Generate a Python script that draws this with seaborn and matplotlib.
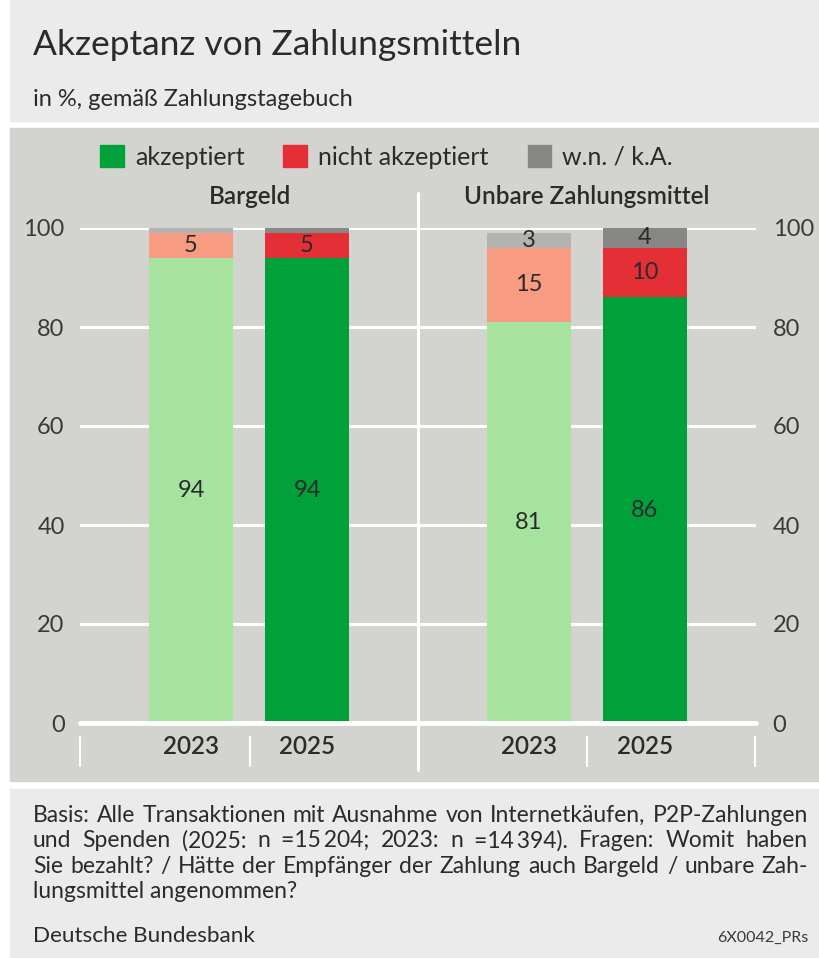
import seaborn as sns
import pandas as pd
import matplotlib.pyplot as plt
from matplotlib.patches import Rectangle, Patch
from matplotlib.lines import Line2D

## Daten
years = ["2023", "2025"]
groups = ["Bargeld", "Unbare Zahlungsmittel"]
bargeld_akz = [94, 94]
bargeld_nicht = [5, 5]
bargeld_wn = [1, 1]
unbar_akz = [81, 86]
unbar_nicht = [15, 10]
unbar_wn = [3, 4]
legend_labels = ["akzeptiert", "nicht akzeptiert", "w.n. / k.A."]
yticks = [0, 20, 40, 60, 80, 100]

title = "Akzeptanz von Zahlungsmitteln"
subtitle = "in %, gemäß Zahlungstagebuch"
footnote = ["Basis: Alle Transaktionen mit Ausnahme von Internetkäufen, P2P-Zahlungen",
            "und Spenden (2025: n =15\u2009204; 2023: n =14\u2009394). Fragen: Womit haben",
            "Sie bezahlt? / Hätte der Empfänger der Zahlung auch Bargeld / unbare Zah-",
            "lungsmittel angenommen?"]
source = "Deutsche Bundesbank"
code = "6X0042_PRs"

## Farben
green = {"2023": "#a5e39f", "2025": "#00a13a"}
red = {"2023": "#f89b83", "2025": "#e52f36"}
grey = {"2023": "#b3b3b1", "2025": "#878785"}
panel = "#d3d3d0"
light = "#ebebeb"
txt = "#2b2b2b"

sns.set_style("white")
plt.rcParams['font.family'] = ['Lato', 'DejaVu Sans']
plt.rcParams['text.color'] = txt

W, H = 820, 958
fig = plt.figure(figsize=(W / 100, H / 100), dpi=100)


def fx(px):
    return px / W


def fy(py):
    return 1 - py / H


## Hintergrund
for y0, y1, col in [(0, 121, light), (128, 781, panel), (789, H, light)]:
    fig.patches.append(Rectangle((fx(10), fy(y1)), fx(810), (y1 - y0) / H,
                                 transform=fig.transFigure, color=col, zorder=-5))

fig.text(fx(33), fy(55), title, fontsize=25.5, va='baseline', ha='left')
fig.text(fx(33), fy(106), subtitle, fontsize=17, va='baseline', ha='left')

## Achsen
ax1 = fig.add_axes([fx(80), fy(723), fx(338), 495 / H])
ax2 = fig.add_axes([fx(418), fy(723), fx(338), 495 / H])

data = [(ax1, bargeld_akz, bargeld_nicht, bargeld_wn),
        (ax2, unbar_akz, unbar_nicht, unbar_wn)]

for ax, akz, nicht, wn in data:
    df = pd.DataFrame({"Jahr": years, "akz": akz, "nicht": nicht, "wn": wn})
    df["c2"] = df["akz"] + df["nicht"]
    df["c3"] = df["c2"] + df["wn"]
    ax.set_facecolor("none")
    # von oben nach unten stapeln
    sns.barplot(data=df, x="Jahr", y="c3", hue="Jahr", palette=grey, order=years, saturation=1,
                width=0.72, linewidth=0, legend=False, ax=ax, zorder=2)
    sns.barplot(data=df, x="Jahr", y="c2", hue="Jahr", palette=red, order=years, saturation=1,
                width=0.72, linewidth=0, legend=False, ax=ax, zorder=3)
    sns.barplot(data=df, x="Jahr", y="akz", hue="Jahr", palette=green, order=years, saturation=1,
                width=0.72, linewidth=0, legend=False, ax=ax, zorder=4)

    for i in range(len(years)):
        segs = [(0, df["akz"][i]), (df["akz"][i], df["nicht"][i]), (df["c2"][i], df["wn"][i])]
        for bottom, val in segs:
            if val >= 2:
                ax.text(i, bottom + val / 2, str(val), ha='center', va='center',
                        fontsize=17, color=txt, zorder=6)

    ax.set_ylim(0, 100)
    ax.set_xlim(-0.957, 1.957)
    ax.set_yticks(yticks)
    ax.yaxis.grid(True, color='white', linewidth=2.2)
    ax.set_axisbelow(True)
    ax.axhline(0, color='white', linewidth=3.5, zorder=5, clip_on=False)
    sns.despine(ax=ax, left=True, bottom=True)
    ax.set_xlabel("")
    ax.set_ylabel("")
    ax.tick_params(axis='x', length=0, pad=9, labelsize=17.5, labelcolor=txt)
    for lab in ax.get_xticklabels():
        lab.set_fontweight('semibold')
    ax.tick_params(axis='y', length=0, labelsize=17, labelcolor="#3a3a3a")

ax1.tick_params(axis='y', pad=11)
ax2.yaxis.tick_right()
ax2.tick_params(axis='y', pad=12)

## Trennlinien
fig.lines.append(Line2D([fx(418), fx(418)], [fy(193), fy(770)], transform=fig.transFigure,
                        color='white', linewidth=2.2, zorder=1))
for xp in [80, 250, 587, 755]:
    fig.lines.append(Line2D([fx(xp), fx(xp)], [fy(737), fy(766)], transform=fig.transFigure,
                            color='white', linewidth=1.5, zorder=1))

## Gruppentitel
fig.text(fx(250), fy(196), groups[0], fontsize=17.5, fontweight='semibold', ha='center', va='center')
fig.text(fx(587), fy(196), groups[1], fontsize=17.5, fontweight='semibold', ha='center', va='center')

## Legende
handles = [Patch(color=green["2025"]), Patch(color=red["2025"]), Patch(color=grey["2025"])]
fig.legend(handles, legend_labels, loc='center left', bbox_to_anchor=(fx(100), fy(157)),
           ncol=3, frameon=False, fontsize=18, handlelength=0.95, handleheight=0.95,
           handletextpad=0.45, columnspacing=1.55, borderaxespad=0, borderpad=0)

## Fussnote (Blocksatz)
renderer = fig.canvas.get_renderer()
fs = 16.5
x0, x1 = 33, 808
for k, line in enumerate(footnote):
    ypos = fy(822 + k * 25.3)
    if k == len(footnote) - 1:
        fig.text(fx(x0), ypos, line, fontsize=fs, va='baseline', ha='left')
        continue
    words = line.split(" ")
    widths = []
    for w in words:
        t = fig.text(0, 0, w, fontsize=fs)
        widths.append(t.get_window_extent(renderer).width)
        t.remove()
    gap = (x1 - x0 - sum(widths)) / (len(words) - 1)
    xp = x0
    for w, wd in zip(words, widths):
        fig.text(fx(xp), ypos, w, fontsize=fs, va='baseline', ha='left')
        xp += wd + gap
fig.text(fx(33), fy(942), source, fontsize=16.2, va='baseline', ha='left')
fig.text(fx(808), fy(942), code, fontsize=11.5, va='baseline', ha='right', color="#3a3a3a")

plt.savefig('out.png', dpi=100, facecolor='white')
